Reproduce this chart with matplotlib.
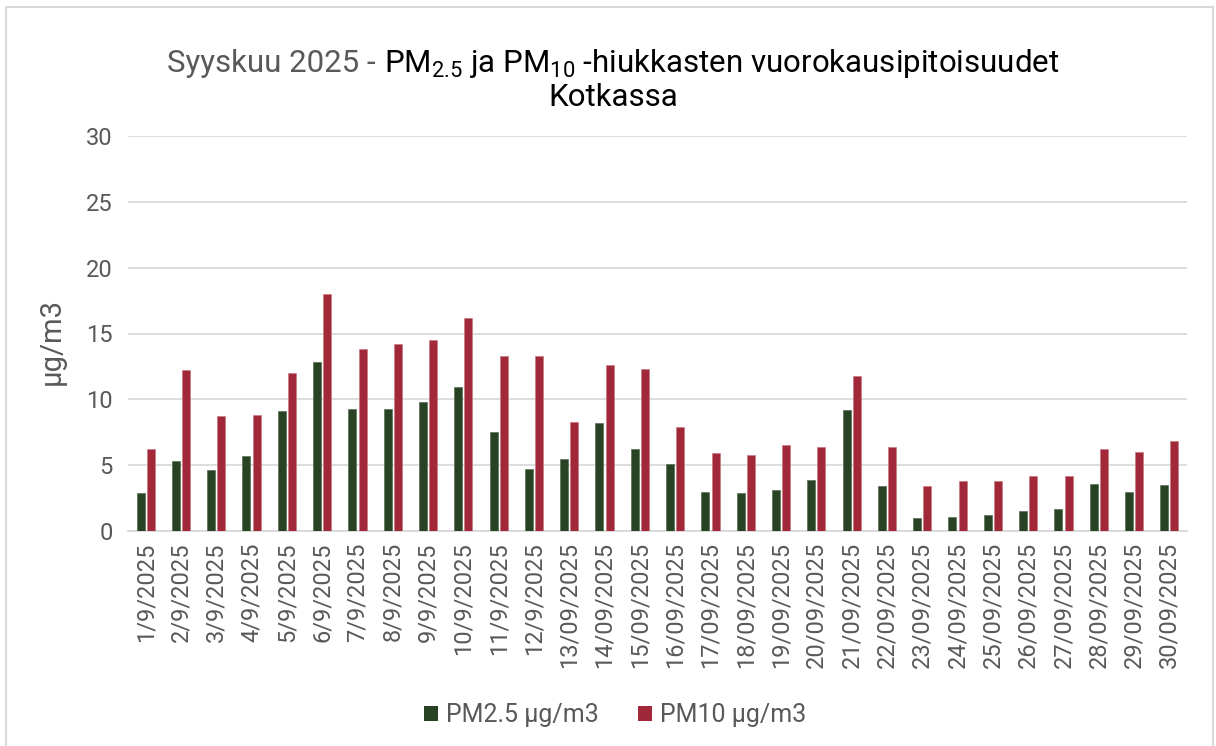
import matplotlib
matplotlib.use("Agg")
import matplotlib.pyplot as plt
import numpy as np
from matplotlib import font_manager
from matplotlib.patches import Rectangle


def pick_font(names):
    for n in names:
        try:
            font_manager.findfont(font_manager.FontProperties(family=n), fallback_to_default=False)
            return n
        except ValueError:
            pass
    return "DejaVu Sans"


FONT = pick_font(["DejaVu Sans Condensed", "Liberation Sans Narrow", "Roboto"])
plt.rcParams["font.family"] = [FONT, "DejaVu Sans"]
plt.rcParams["mathtext.fontset"] = "custom"
plt.rcParams["mathtext.rm"] = FONT
plt.rcParams["mathtext.it"] = FONT

# data
dates = ["1/9/2025", "2/9/2025", "3/9/2025", "4/9/2025", "5/9/2025", "6/9/2025",
         "7/9/2025", "8/9/2025", "9/9/2025", "10/9/2025", "11/9/2025", "12/9/2025",
         "13/09/2025", "14/09/2025", "15/09/2025", "16/09/2025", "17/09/2025",
         "18/09/2025", "19/09/2025", "20/09/2025", "21/09/2025", "22/09/2025",
         "23/09/2025", "24/09/2025", "25/09/2025", "26/09/2025", "27/09/2025",
         "28/09/2025", "29/09/2025", "30/09/2025"]
pm25 = [2.9, 5.3, 4.6, 5.7, 9.1, 12.8, 9.3, 9.3, 9.8, 10.9, 7.5, 4.7, 5.5, 8.2, 6.2,
        5.1, 3.0, 2.9, 3.1, 3.9, 9.2, 3.4, 1.0, 1.1, 1.2, 1.5, 1.7, 3.6, 3.0, 3.5]
pm10 = [6.2, 12.2, 8.7, 8.8, 12.0, 18.0, 13.8, 14.2, 14.5, 16.2, 13.3, 13.3, 8.3, 12.6, 12.3,
        7.9, 5.9, 5.8, 6.5, 6.4, 11.8, 6.4, 3.4, 3.8, 3.8, 4.2, 4.2, 6.2, 6.0, 6.8]

green = "#284224"
red = "#A02838"
grey = "#595959"
gridc = "#d9d9d9"

W, H = 1216, 746
fig = plt.figure(figsize=(W / 100, H / 100), dpi=100)
ax = fig.add_axes([128 / W, 1 - 531 / H, (1187 - 128) / W, (531 - 136) / H])

x = np.arange(len(dates))
bw = 0.228
ax.bar(x - 0.144, pm25, bw, color=green, edgecolor="#5a6e56", linewidth=0.5, label="PM2.5 µg/m3", zorder=3)
ax.bar(x + 0.144, pm10, bw, color=red, edgecolor="#c87a84", linewidth=0.5, label="PM10 µg/m3", zorder=3)

ax.set_xlim(-0.5, len(dates) - 0.5)
ax.set_ylim(0, 30)
ax.set_yticks(np.arange(0, 31, 5))
ax.set_xticks(x)
ax.set_xticklabels(dates, rotation=90)
ax.tick_params(axis="both", length=0, labelsize=17, labelcolor=grey)
ax.tick_params(axis="y", pad=11)
ax.tick_params(axis="x", pad=8)
ax.grid(axis="y", color=gridc, linewidth=1.3, zorder=0)
for s in ["top", "right", "left"]:
    ax.spines[s].set_visible(False)
ax.spines["bottom"].set_color(gridc)
ax.spines["bottom"].set_linewidth(1.3)

ax.set_ylabel("µg/m3", fontsize=21, color=grey)
ax.yaxis.set_label_coords(-0.059, 0.48)

# title in two colours
t1 = fig.text(0, 1 - 72 / H, "Syyskuu 2025 - ", fontsize=22.5, color=grey, va="baseline")
t2 = fig.text(0, 1 - 72 / H, r"PM$_\mathrm{2.5}$ ja PM$_\mathrm{10}$ -hiukkasten vuorokausipitoisuudet",
              fontsize=22.5, color="black", va="baseline")
fig.canvas.draw()
r = fig.canvas.get_renderer()
w1 = t1.get_window_extent(r).width
w2 = t2.get_window_extent(r).width
x0 = (613 - (w1 + w2) / 2) / W
t1.set_x(x0)
t2.set_x(x0 + w1 / W)
fig.text(613 / W, 1 - 106 / H, "Kotkassa", fontsize=22.5, color="black", ha="center", va="baseline")

leg = fig.legend(loc="center", bbox_to_anchor=(615 / W, 1 - 715 / H), ncol=2, frameon=False,
                 fontsize=18, handlelength=0.55, handleheight=0.55, handletextpad=0.3,
                 columnspacing=1.6, labelcolor=grey)
for h in leg.legend_handles:
    h.set_linewidth(0)

fig.patches.append(Rectangle((6 / W, -0.1), (1213 - 6) / W, 1.1 - 7 / H, transform=fig.transFigure,
                             fill=False, edgecolor=gridc, linewidth=1.5))

fig.savefig("out.png", dpi=100)
